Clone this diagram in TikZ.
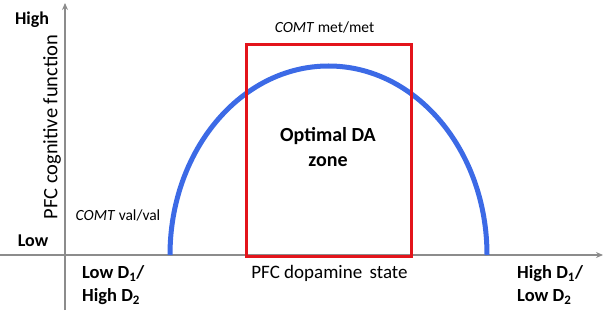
\documentclass[tikz,border=0pt]{standalone}
\usepackage{fontspec}
\setmainfont{Carlito}
\usetikzlibrary{arrows.meta}
\definecolor{axisgray}{HTML}{8C8C8C}
\definecolor{curveblue}{HTML}{3C6AE6}
\definecolor{boxred}{HTML}{E3141B}
\begin{document}
\begin{tikzpicture}[x=1pt,y=1pt,
  axis/.style={draw=axisgray,line width=1.6pt,-{Stealth[length=7pt,width=6pt]}},
  lbl/.style={inner sep=0pt,font=\fontsize{18.5}{23}\selectfont\bfseries},
  small/.style={inner sep=0pt,font=\fontsize{15.5}{18}\selectfont}]
\useasboundingbox (0,0) rectangle (604,313);
\coordinate (xs) at (0,58);
\coordinate (xe) at (603,58);
\coordinate (ys) at (65,3);
\coordinate (ye) at (65,310);
\draw[axis] (xs) -- (xe);
\draw[axis] (ys) -- (ye);
\coordinate (arcstart) at (170,58);
\draw[curveblue,line width=5pt] (arcstart) arc[start angle=180,end angle=0,x radius=158.5,y radius=189];
\node[draw=boxred,line width=3pt,minimum width=165pt,minimum height=211pt,inner sep=0pt] (zone) at (328.5,162.5) {};
\node[inner sep=0pt,font=\fontsize{20}{25}\selectfont\bfseries,align=center] (opt) at (328,166) {Optimal DA\\zone};
\node[lbl,font=\fontsize{18}{23}\selectfont\bfseries] (high) at (32,293) {High};
\node[lbl,font=\fontsize{18}{23}\selectfont\bfseries] (low) at (33,72) {Low};
\node[rotate=90,font=\fontsize{20.5}{24}\selectfont,inner sep=0pt] (ylab) at (52,186) {PFC cognitive function};
\node[small] (val) at (118,98) {\textit{COMT} val/val};
\node[small] (met) at (324.5,286) {\textit{COMT} met/met};
\node[inner sep=0pt,font=\fontsize{19}{23}\selectfont] (xlab) at (329.5,40) {PFC dopamine\ \,state};
\node[lbl,anchor=west,align=left] (left) at (82,28) {Low D\textsubscript{1}/\\High D\textsubscript{2}};
\node[lbl,anchor=west,align=left] (right) at (517,28) {High D\textsubscript{1}/\\Low D\textsubscript{2}};
\end{tikzpicture}
\end{document}
